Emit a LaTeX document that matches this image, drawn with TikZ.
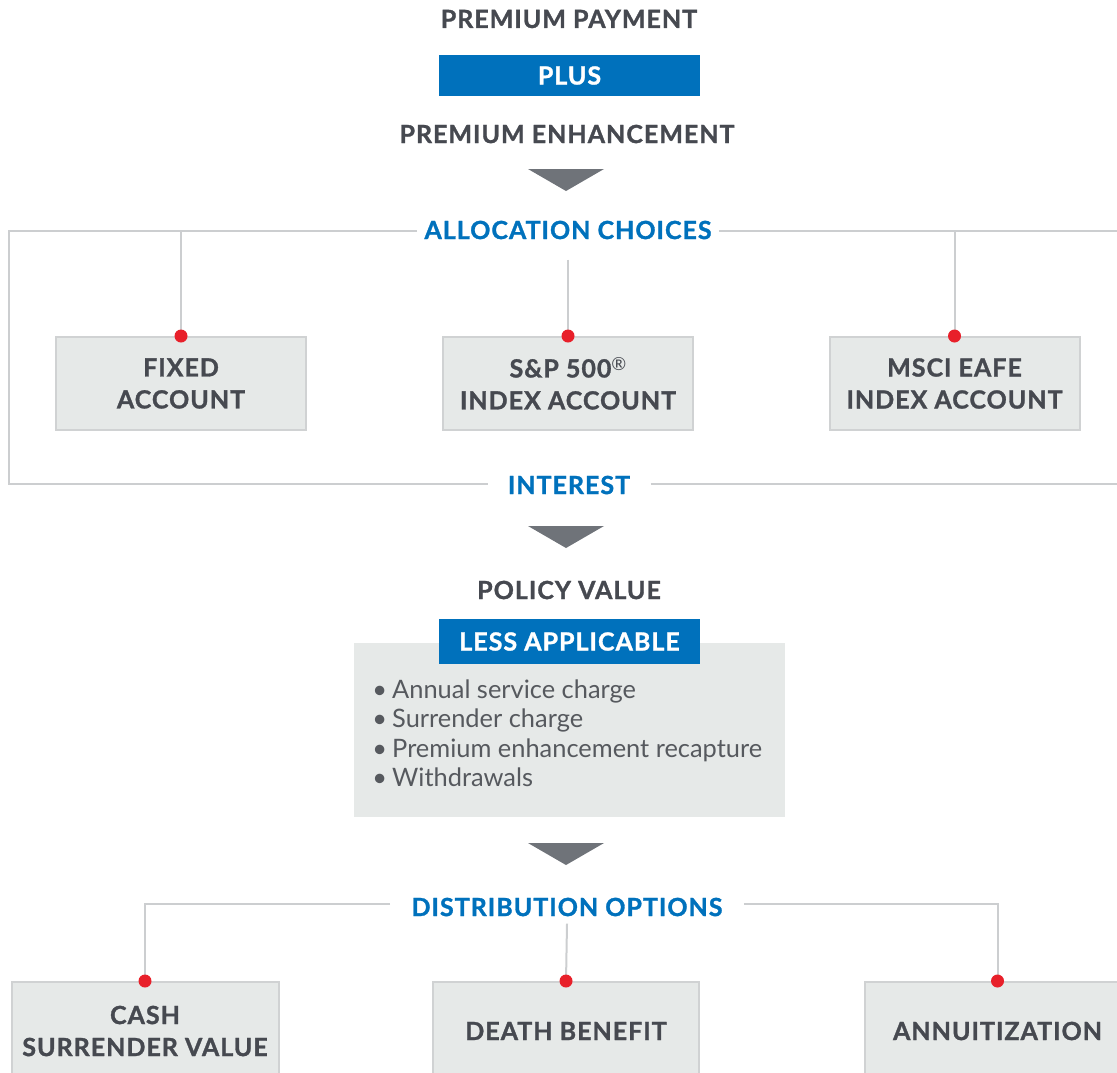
\documentclass[tikz,border=0pt]{standalone}
\usepackage{fontspec}
\setmainfont{Lato}
\newfontfamily\headfont[LetterSpace=4, BoldFeatures={FakeBold=1.2}]{Lato}
\usetikzlibrary{positioning}

\definecolor{darktext}{HTML}{464950}
\definecolor{headblue}{HTML}{0071BC}
\definecolor{boxfill}{HTML}{E6E9E8}
\definecolor{boxline}{HTML}{D0D2D3}
\definecolor{linegray}{HTML}{CCCED0}
\definecolor{arrowgray}{HTML}{6F7379}
\definecolor{dotred}{HTML}{E8202A}
\definecolor{listtext}{HTML}{56595E}

\begin{document}
\begin{tikzpicture}[x=0.5pt, y=-0.5pt]

\tikzstyle{heading} = [font=\headfont\bfseries\fontsize{12.5}{16}\selectfont, text=darktext, align=center]
\tikzstyle{bluehead} = [heading, text=headblue]
\tikzstyle{account} = [rectangle, draw=boxline, fill=boxfill, line width=1pt, heading, minimum width=125pt, minimum height=46.5pt]
\tikzstyle{tag} = [rectangle, fill=headblue, heading, text=white, minimum width=130.5pt]
\tikzstyle{item} = [font=\fontsize{12.7}{15}\selectfont, text=listtext, anchor=base west, inner sep=0pt]
\tikzstyle{reddot} = [circle, fill=dotred, inner sep=0pt, minimum size=6.5pt]
\tikzstyle{link} = [draw=linegray, line width=1pt]

\useasboundingbox (0,0) rectangle (1117,1072);
\clip (0,0) rectangle (1117,1072);

% premium
\node [heading] (payment) at (569,19) {PREMIUM PAYMENT};
\node [tag, minimum height=20.5pt] (plus) at (569.5,75.5) {PLUS};
\node [heading] (enhance) at (567,134) {PREMIUM ENHANCEMENT};

% down arrows
\foreach \ty in {169,526,843}
  \fill [arrowgray] (528,\ty) -- ++(76,0) -- ++(-38,22) -- cycle;

% allocation choices
\node [bluehead, inner xsep=3.5pt, inner ysep=10pt] (alloc) at (568,230) {ALLOCATION CHOICES};
\node [account] (fixed) at (181,383.5) {FIXED\\ACCOUNT};
\node [account] (sp) at (568,383.5) {S\&P 500{\mdseries\fontsize{9}{9}\selectfont\raisebox{3.5pt}{®}}\\INDEX ACCOUNT};
\node [account] (msci) at (954.5,383.5) {MSCI EAFE\\INDEX ACCOUNT};
\node [bluehead, inner xsep=10pt] (interest) at (569,485) {INTEREST};

\coordinate (loopTL) at (9,231);
\coordinate (loopBL) at (9,484);
\coordinate (loopTR) at (1117,231);
\coordinate (loopBR) at (1117,484);

\draw [link] (alloc.west |- loopTL) -- (loopTL) -- (loopBL) -- (interest.west |- loopBL);
\draw [link] (alloc.east |- loopTR) -- (loopTR);
\draw [link] (interest.east |- loopBR) -- (loopBR);
\draw [link] (fixed.north |- loopTL) -- (fixed.north);
\draw [link] (alloc.south) -- (sp.north);
\draw [link] (msci.north |- loopTR) -- (msci.north);
\foreach \acc in {fixed,sp,msci}
  \node [reddot] at (\acc.north) {};

% policy value
\node [heading] (policy) at (569,590) {POLICY VALUE};
\node [rectangle, fill=boxfill, minimum width=215.5pt, minimum height=87pt] (charges) at (569.5,730) {};
\node [tag, minimum height=22.5pt] (less) at (569.5,641.5) {LESS APPLICABLE};
\foreach \txt [count=\i] in {Annual service charge, Surrender charge, Premium enhancement recapture, Withdrawals}
  \node [item] (item\i) at (372,668.5+29.5*\i) {\textbullet\hspace{0.2em}\txt};

% distribution options
\node [bluehead, inner xsep=10.5pt, inner ysep=3.5pt] (dist) at (567,907) {DISTRIBUTION OPTIONS};
\node [account, minimum width=133.5pt, minimum height=49pt] (cash) at (145,1031) {CASH\\SURRENDER VALUE};
\node [account, minimum width=133pt, minimum height=49pt] (death) at (566,1031) {DEATH BENEFIT};
\node [account, minimum width=133pt, minimum height=49pt] (annuit) at (997.5,1031) {ANNUITIZATION};

\coordinate (distL) at (145,904);
\coordinate (distR) at (997.5,904);

\draw [link] (dist.west |- distL) -- (distL) -- (cash.north);
\draw [link] (dist.east |- distR) -- (distR) -- (annuit.north);
\draw [link] (dist.south) -- (death.north);
\foreach \opt in {cash,death,annuit}
  \node [reddot] at (\opt.north) {};

\end{tikzpicture}
\end{document}
